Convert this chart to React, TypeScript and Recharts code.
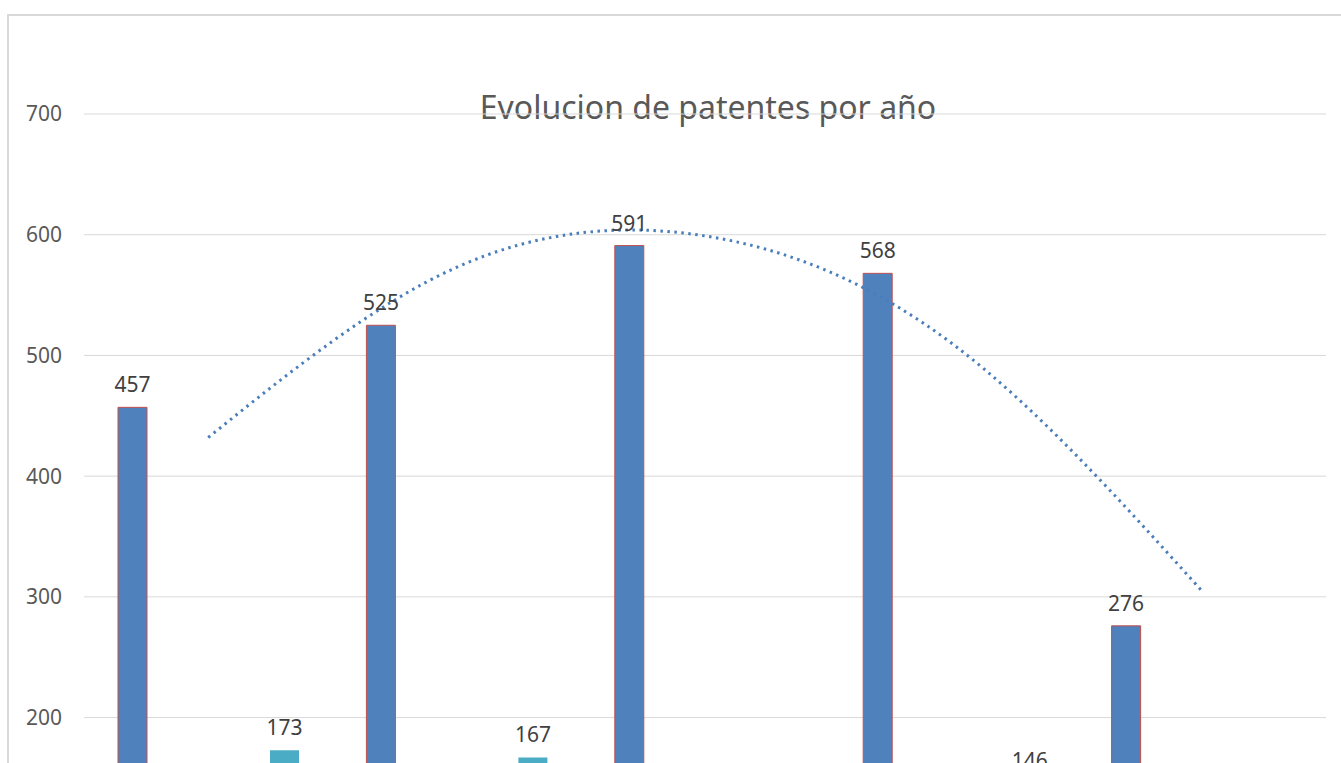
import { ComposedChart, Bar, Line, XAxis, YAxis, CartesianGrid, LabelList } from 'recharts';

// years (axis labels fall below the visible crop)
const years = ['2012', '2013', '2014', '2015', '2016'];
// main series (blue bars)
const patentes = [457, 525, 591, 568, 276];
// second series (teal bars), two values sit below the visible area
const secundaria = [173, 167, 128, 146, 92];
// dotted polynomial trend at each year
const tendencia = [432, 573, 599, 509, 305];
const yTicks = [200, 300, 400, 500, 600, 700];

const data = years.map((y, i) => ({
  year: y,
  patentes: patentes[i],
  secundaria: secundaria[i],
  tendencia: tendencia[i],
}));

const FONT = '"Noto Sans", "Open Sans", sans-serif';

const App = () => {
  return (
    <div
      style={{
        position: 'fixed',
        left: 0,
        top: 0,
        width: 1341,
        height: 763,
        overflow: 'hidden',
        background: '#fff',
      }}
    >
      {/* chart area border, only top and left edges are in view */}
      <div
        style={{
          position: 'absolute',
          left: 7,
          top: 14,
          width: 1500,
          height: 1100,
          border: '2px solid #d9d9d9',
        }}
      />
      <div
        style={{
          position: 'absolute',
          left: 0,
          top: 88,
          width: 1416,
          textAlign: 'center',
          fontFamily: FONT,
          fontSize: 32,
          color: '#595959',
          lineHeight: '38px',
        }}
      >
        Evolucion de patentes por año
      </div>
      <div style={{ position: 'absolute', left: 0, top: 0 }}>
        <ComposedChart
          width={1420}
          height={1020}
          data={data}
          margin={{ top: 114, right: 94, left: 0, bottom: 21 }}
          barSize={29}
          barGap={123}
        >
          <CartesianGrid vertical={false} stroke="#d9d9d9" strokeWidth={1} />
          <XAxis dataKey="year" height={40} axisLine={false} tickLine={false} tick={false} />
          <YAxis
            width={84}
            domain={[0, 700]}
            ticks={yTicks}
            axisLine={false}
            tickLine={false}
            tickMargin={16}
            tick={{ fontSize: 21, fill: '#595959', fontFamily: FONT }}
          />
          <Bar dataKey="patentes" fill="#4f81bd" stroke="#c0504d" strokeWidth={1} isAnimationActive={false}>
            <LabelList dataKey="patentes" position="top" offset={15} fill="#404040" fontSize={21} fontFamily={FONT} />
          </Bar>
          <Bar dataKey="secundaria" fill="#4bacc6" isAnimationActive={false}>
            <LabelList dataKey="secundaria" position="top" offset={15} fill="#404040" fontSize={21} fontFamily={FONT} />
          </Bar>
          <Line
            dataKey="tendencia"
            type="natural"
            stroke="#4a7ebb"
            strokeWidth={3}
            strokeDasharray="2.5 4.5"
            dot={false}
            activeDot={false}
            isAnimationActive={false}
          />
        </ComposedChart>
      </div>
    </div>
  );
};

export default App;
